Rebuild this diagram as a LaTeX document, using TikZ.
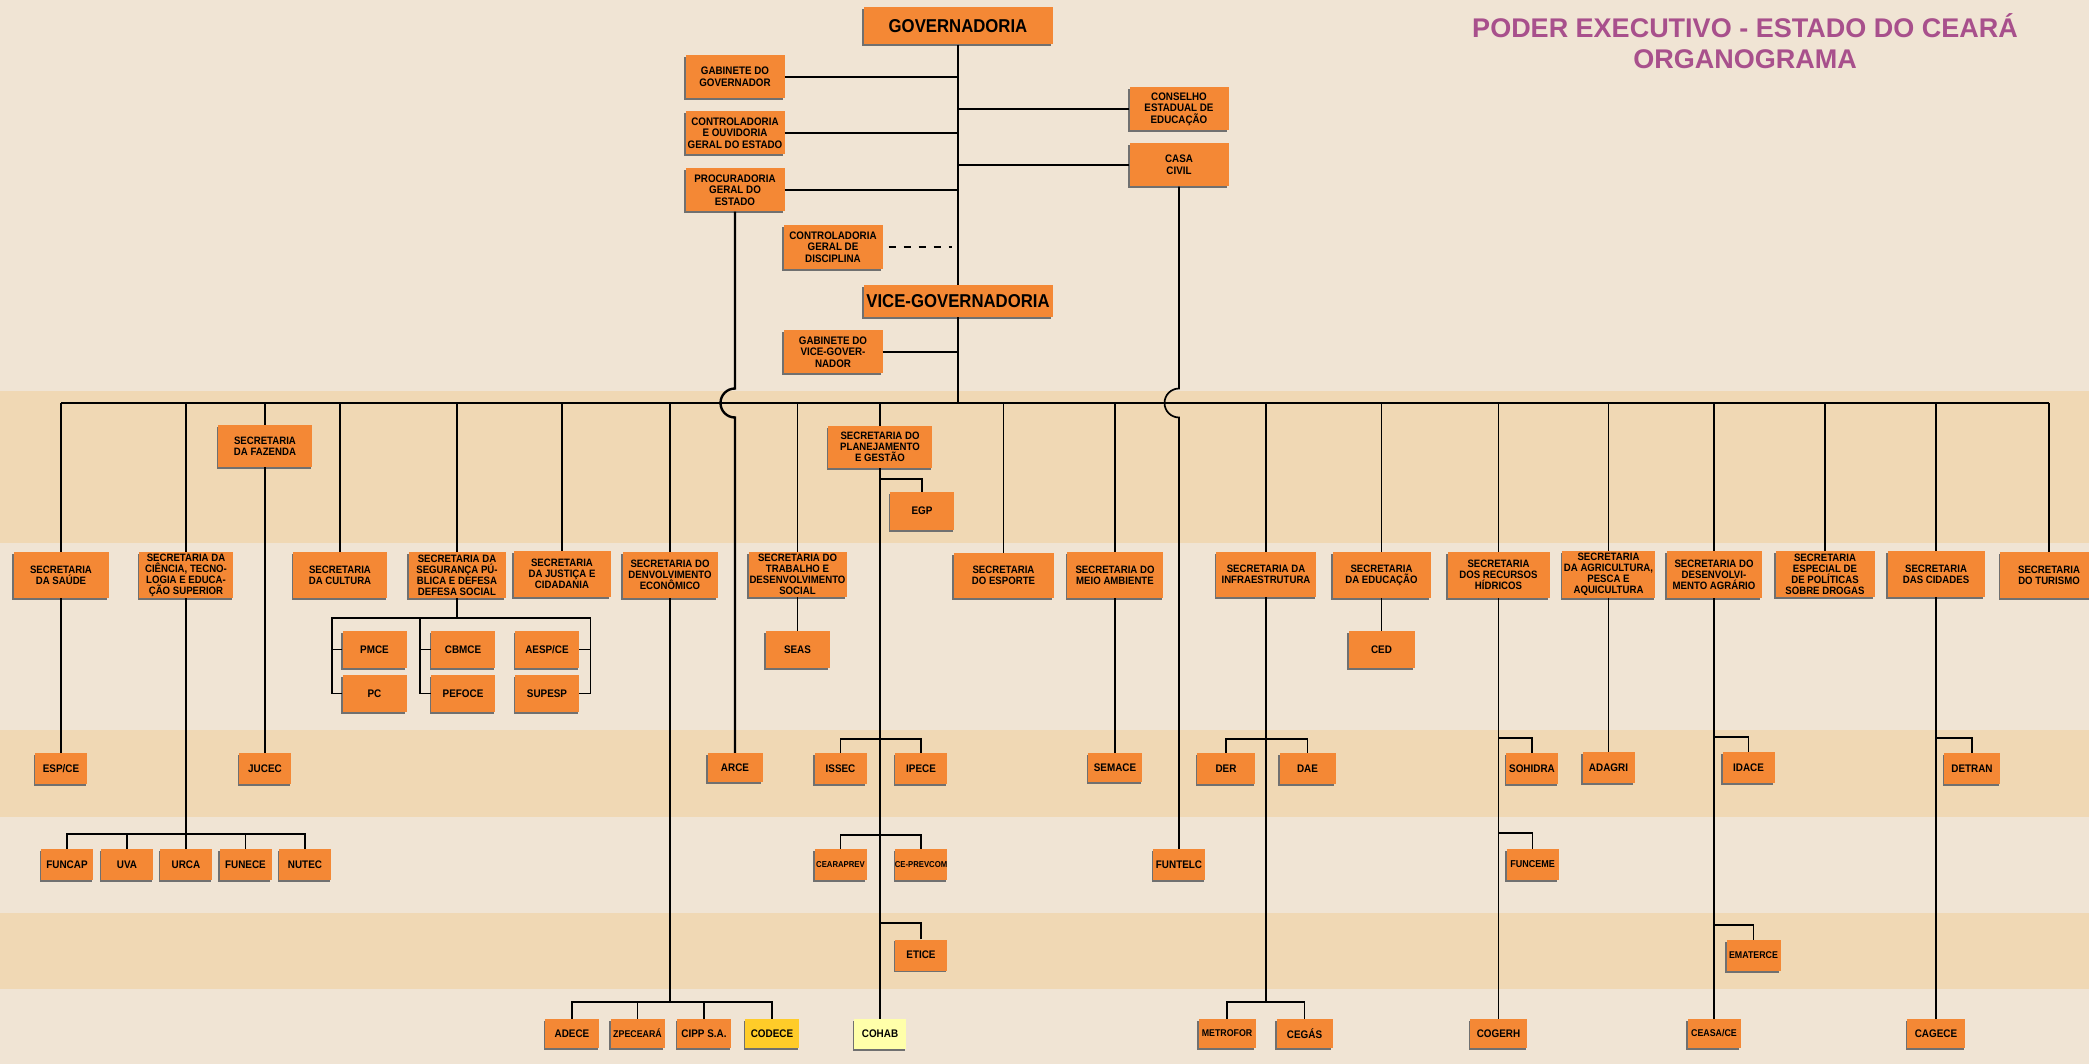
\documentclass[tikz,border=0pt]{standalone}
\usepackage{fontspec}
\setmainfont{Liberation Sans}
\newfontfamily\boxfont{Liberation Sans}[FakeStretch=0.9]
\usepackage{tikz}
\usetikzlibrary{shadows}
\definecolor{bglight}{RGB}{240,228,212}
\definecolor{bgband}{RGB}{240,216,180}
\definecolor{orgorange}{RGB}{244,136,53}
\definecolor{orgshadow}{RGB}{112,112,112}
\definecolor{orgyellow}{RGB}{255,204,41}
\definecolor{orgpale}{RGB}{255,255,170}
\definecolor{titlemag}{RGB}{168,80,140}

\begin{document}
\begin{tikzpicture}[x=1pt,y=-1pt,
  org/.style={fill=orgorange,inner sep=0pt,align=center,text=black,
    font=\boxfont\bfseries\fontsize{10.7}{11}\selectfont,
    drop shadow={shadow xshift=-1.2pt,shadow yshift=-1.8pt,fill=orgshadow,opacity=1}},
  topbox/.style={org,minimum width=99pt,minimum height=43pt,font=\boxfont\bfseries\fontsize{10.9}{11.5}\selectfont},
  secbox/.style={org,minimum width=97pt,minimum height=46pt},
  midbox/.style={org,minimum width=64pt,minimum height=37pt,font=\boxfont\bfseries\fontsize{11}{11}\selectfont},
  leafbox/.style={org,minimum width=52pt,minimum height=31pt,font=\boxfont\bfseries\fontsize{11}{11}\selectfont},
  lowbox/.style={leafbox,minimum width=54pt,minimum height=29pt},
  bigbox/.style={org,minimum width=189pt,font=\boxfont\bfseries\fontsize{18.6}{20}\selectfont},
  link/.style={line width=1.7pt},
  sublink/.style={line width=1.5pt}]

\useasboundingbox (0,0) rectangle (2089,1064);
\fill[bglight] (0,0) rectangle (2089,1064);
\fill[bgband] (0,391) rectangle (2089,543);
\fill[bgband] (0,730) rectangle (2089,817);
\fill[bgband] (0,913) rectangle (2089,989);

\node[text=titlemag,align=center,font=\bfseries\fontsize{27}{31}\selectfont] (title) at (1745,41) {PODER EXECUTIVO - ESTADO DO CEARÁ\\ORGANOGRAMA};

\node[bigbox,minimum height=37pt] (gov) at (958,26) {GOVERNADORIA};
\node[bigbox,minimum height=32pt] (vice) at (958,301) {VICE-GOVERNADORIA};
\node[topbox] (gabgov) at (735,77) {GABINETE DO\\GOVERNADOR};
\node[topbox] (cgoe) at (735,133) {CONTROLADORIA\\E OUVIDORIA\\GERAL DO ESTADO};
\node[topbox] (pge) at (735,190) {PROCURADORIA\\GERAL DO\\ESTADO};
\node[topbox,minimum height=44pt] (cgd) at (833,247) {CONTROLADORIA\\GERAL DE\\DISCIPLINA};
\node[topbox] (gabvice) at (833,352) {GABINETE DO\\VICE-GOVER-\\NADOR};
\node[topbox] (cee) at (1179,109) {CONSELHO\\ESTADUAL DE\\EDUCAÇÃO};
\node[topbox] (casa) at (1179,165) {CASA\\CIVIL};

\node[secbox,minimum width=94pt,minimum height=42pt] (fazenda) at (265,446) {SECRETARIA\\DA FAZENDA};
\node[secbox,minimum width=104pt,minimum height=42pt] (plan) at (880,447) {SECRETARIA DO\\PLANEJAMENTO\\E GESTÃO};
\node[midbox,minimum height=38pt] (egp) at (922,511) {EGP};

\node[secbox,minimum width=95pt] (saude) at (61,575) {SECRETARIA\\DA SAÚDE};
\node[secbox,minimum width=94pt] (ciencia) at (186,575) {SECRETARIA DA\\CIÊNCIA, TECNO-\\LOGIA E EDUCA-\\ÇÃO SUPERIOR};
\node[secbox,minimum width=94pt] (cultura) at (340,575) {SECRETARIA\\DA CULTURA};
\node[secbox] (seguranca) at (457,575) {SECRETARIA DA\\SEGURANÇA PÚ-\\BLICA E DEFESA\\DEFESA SOCIAL};
\node[secbox] (justica) at (562,574) {SECRETARIA\\DA JUSTIÇA E\\CIDADANIA};
\node[secbox,minimum width=95pt] (desecon) at (670,575) {SECRETARIA DO\\DENVOLVIMENTO\\ECONÔMICO};
\node[secbox,minimum width=98pt,minimum height=45pt] (trabalho) at (797.5,574.5) {SECRETARIA DO\\TRABALHO E\\DESENVOLVIMENTO\\SOCIAL};
\node[secbox,minimum width=100pt,minimum height=45pt] (esporte) at (1003.5,575.5) {SECRETARIA\\DO ESPORTE};
\node[secbox,minimum width=96pt] (meioamb) at (1115,575) {SECRETARIA DO\\MEIO AMBIENTE};
\node[secbox,minimum width=100pt,minimum height=45pt] (infra) at (1266,574.5) {SECRETARIA DA\\INFRAESTRUTURA};
\node[secbox,minimum width=98pt] (educacao) at (1381.5,575) {SECRETARIA\\DA EDUCAÇÃO};
\node[secbox,minimum width=102pt] (recursos) at (1498.5,575) {SECRETARIA\\DOS RECURSOS\\HÍDRICOS};
\node[secbox,minimum width=93pt,minimum height=47pt] (agricultura) at (1608.5,574.5) {SECRETARIA\\DA AGRICULTURA,\\PESCA E\\AQUICULTURA};
\node[secbox,minimum width=95pt,minimum height=47pt] (desagr) at (1714,574.5) {SECRETARIA DO\\DESENVOLVI-\\MENTO AGRÁRIO};
\node[secbox,minimum width=99pt] (drogas) at (1825,574) {SECRETARIA\\ESPECIAL DE\\DE POLÍTICAS\\SOBRE DROGAS};
\node[secbox] (cidades) at (1936,574) {SECRETARIA\\DAS CIDADES};
\node[secbox,minimum width=98pt] (turismo) at (2049,575) {SECRETARIA\\DO TURISMO};

\node[midbox] (pmce) at (374.5,649.5) {PMCE};
\node[midbox] (pc) at (374.5,693.5) {PC};
\node[midbox] (cbmce) at (463,649.5) {CBMCE};
\node[midbox] (pefoce) at (463,693.5) {PEFOCE};
\node[midbox] (aesp) at (547,649.5) {AESP/CE};
\node[midbox] (supesp) at (547,693.5) {SUPESP};
\node[midbox] (seas) at (797.5,649.5) {SEAS};
\node[midbox,minimum width=66pt] (ced) at (1381.5,649.5) {CED};

\node[leafbox] (espce) at (61,768.5) {ESP/CE};
\node[leafbox] (jucec) at (265,768.5) {JUCEC};
\node[leafbox,minimum width=55pt,minimum height=29pt] (arce) at (735,767.5) {ARCE};
\node[leafbox] (issec) at (840.5,768.5) {ISSEC};
\node[leafbox] (ipece) at (921,768.5) {IPECE};
\node[leafbox,minimum width=54pt,minimum height=29pt] (semace) at (1115,767.5) {SEMACE};
\node[leafbox,minimum width=58pt] (der) at (1226,768.5) {DER};
\node[leafbox,minimum width=56pt] (dae) at (1307.5,768.5) {DAE};
\node[leafbox] (sohidra) at (1532,768.5) {SOHIDRA};
\node[leafbox] (adagri) at (1608.5,767.5) {ADAGRI};
\node[leafbox] (idace) at (1748.5,767.5) {IDACE};
\node[leafbox,minimum width=56pt] (detran) at (1972,768.5) {DETRAN};

\node[leafbox] (funcap) at (67,864.5) {FUNCAP};
\node[leafbox] (uva) at (127,864.5) {UVA};
\node[leafbox] (urca) at (186,864.5) {URCA};
\node[leafbox] (funece) at (245.5,864.5) {FUNECE};
\node[leafbox] (nutec) at (305,864.5) {NUTEC};
\node[leafbox,font=\boxfont\bfseries\fontsize{8.6}{9}\selectfont] (cearaprev) at (840.5,864.5) {CEARAPREV};
\node[leafbox,font=\boxfont\bfseries\fontsize{8.6}{9}\selectfont] (ceprevcom) at (921,864.5) {CE-PREVCOM};
\node[leafbox] (funtelc) at (1179,864.5) {FUNTELC};
\node[leafbox,font=\boxfont\bfseries\fontsize{10}{10}\selectfont] (funceme) at (1532.5,864.5) {FUNCEME};

\node[leafbox] (etice) at (921,955) {ETICE};
\node[leafbox,minimum width=54pt,font=\boxfont\bfseries\fontsize{9.8}{10}\selectfont] (ematerce) at (1753.5,955.5) {EMATERCE};

\node[lowbox] (adece) at (572,1033.5) {ADECE};
\node[lowbox,font=\boxfont\bfseries\fontsize{9.8}{10}\selectfont] (zpeceara) at (637.5,1033.5) {ZPECEARÁ};
\node[lowbox] (cipp) at (704,1033.5) {CIPP S.A.};
\node[lowbox,fill=orgyellow] (codece) at (772,1033.5) {CODECE};
\node[leafbox,minimum height=30pt,fill=orgpale] (cohab) at (880,1034) {COHAB};
\node[lowbox,minimum width=57pt,font=\boxfont\bfseries\fontsize{9.8}{10}\selectfont] (metrofor) at (1227,1033.5) {METROFOR};
\node[lowbox,minimum width=56pt] (cegas) at (1304.5,1033.5) {CEGÁS};
\node[lowbox,minimum width=57pt] (cogerh) at (1498.5,1033.5) {COGERH};
\node[lowbox,minimum width=53pt,font=\boxfont\bfseries\fontsize{9.8}{10}\selectfont] (ceasa) at (1714,1033.5) {CEASA/CE};
\node[lowbox,minimum width=58pt] (cagece) at (1936,1033.5) {CAGECE};

\coordinate (bus) at (958,403);
\coordinate (jumpa) at (735,388.5);
\coordinate (jumpb) at (1179,388.5);
\coordinate (cbar) at (186,834);
\coordinate (sbarl) at (332,618);
\coordinate (sbarm) at (420,618);
\coordinate (sbarr) at (590.5,618);
\coordinate (pegp) at (880,479);
\coordinate (pissec) at (880,739);
\coordinate (pprev) at (880,835);
\coordinate (petice) at (880,923);
\coordinate (dbar) at (670,1002);
\coordinate (itop) at (1266,739);
\coordinate (ibot) at (1266,1002);
\coordinate (rsoh) at (1498.5,738);
\coordinate (rfun) at (1498.5,833);
\coordinate (aida) at (1714,737);
\coordinate (aema) at (1714,925);
\coordinate (cdet) at (1936,738);

\draw[link] (gov.south) -- (vice.north);
\draw[link] (vice.south) -- (bus);
\draw[link] (gabgov.east) -- (gabgov.east -| gov.south);
\draw[link] (cgoe.east) -- (cgoe.east -| gov.south);
\draw[link] (pge.east) -- (pge.east -| gov.south);
\draw[link] (cee.west) -- (cee.west -| gov.south);
\draw[link] (casa.west) -- (casa.west -| gov.south);
\draw[link] (gabvice.east) -- (gabvice.east -| gov.south);
\draw[link,dash pattern=on 7pt off 8pt,shorten <=6pt,shorten >=6pt] (cgd.east) -- (cgd.east -| gov.south);

\draw[link] (saude.north |- bus) -- (turismo.north |- bus);
\foreach \n in {saude,ciencia,fazenda,cultura,seguranca,justica,desecon,trabalho,plan,esporte,meioamb,infra,educacao,recursos,agricultura,desagr,drogas,cidades,turismo}
  \draw[link] (\n.north |- bus) -- (\n.north);
\draw[line width=2.4pt] (pge.south) -- (jumpa) arc[start angle=90,end angle=270,radius=14.5pt] -- (arce.north);
\draw[link] (casa.south) -- (jumpb) arc[start angle=90,end angle=270,radius=14.5pt] -- (funtelc.north);

\draw[link] (saude.south) -- (espce.north);
\draw[link] (fazenda.south) -- (jucec.north);
\draw[link] (ciencia.south) -- (urca.north);
\draw[sublink] (funcap.north) |- (cbar) -| (nutec.north);
\draw[sublink] (uva.north) -- (uva.north |- cbar);
\draw[sublink] (funece.north) -- (funece.north |- cbar);

\draw[link] (seguranca.south) -- (seguranca.south |- sbarm);
\draw[sublink] (pc.west) -| (sbarl) -- (sbarr) |- (supesp.east);
\draw[sublink] (pmce.west) -- (pmce.west -| sbarl);
\draw[sublink] (pefoce.west) -| (sbarm);
\draw[sublink] (cbmce.west) -- (cbmce.west -| sbarm);
\draw[sublink] (aesp.east) -- (aesp.east -| sbarr);

\draw[link] (trabalho.south) -- (seas.north);
\draw[link] (plan.south) -- (cohab.north);
\draw[sublink] (egp.north) |- (pegp);
\draw[sublink] (issec.north) |- (pissec) -| (ipece.north);
\draw[sublink] (cearaprev.north) |- (pprev) -| (ceprevcom.north);
\draw[sublink] (etice.north) |- (petice);

\draw[link] (desecon.south) -- (dbar);
\draw[sublink] (adece.north) |- (dbar) -| (codece.north);
\draw[sublink] (zpeceara.north) -- (zpeceara.north |- dbar);
\draw[sublink] (cipp.north) -- (cipp.north |- dbar);

\draw[link] (meioamb.south) -- (semace.north);
\draw[link] (infra.south) -- (ibot);
\draw[sublink] (der.north) |- (itop) -| (dae.north);
\draw[sublink] (metrofor.north) |- (ibot) -| (cegas.north);
\draw[link] (educacao.south) -- (ced.north);
\draw[link] (recursos.south) -- (cogerh.north);
\draw[sublink] (sohidra.north) |- (rsoh);
\draw[sublink] (funceme.north) |- (rfun);
\draw[link] (agricultura.south) -- (adagri.north);
\draw[link] (desagr.south) -- (ceasa.north);
\draw[sublink] (idace.north) |- (aida);
\draw[sublink] (ematerce.north) |- (aema);
\draw[link] (cidades.south) -- (cagece.north);
\draw[sublink] (detran.north) |- (cdet);
\end{tikzpicture}
\end{document}
